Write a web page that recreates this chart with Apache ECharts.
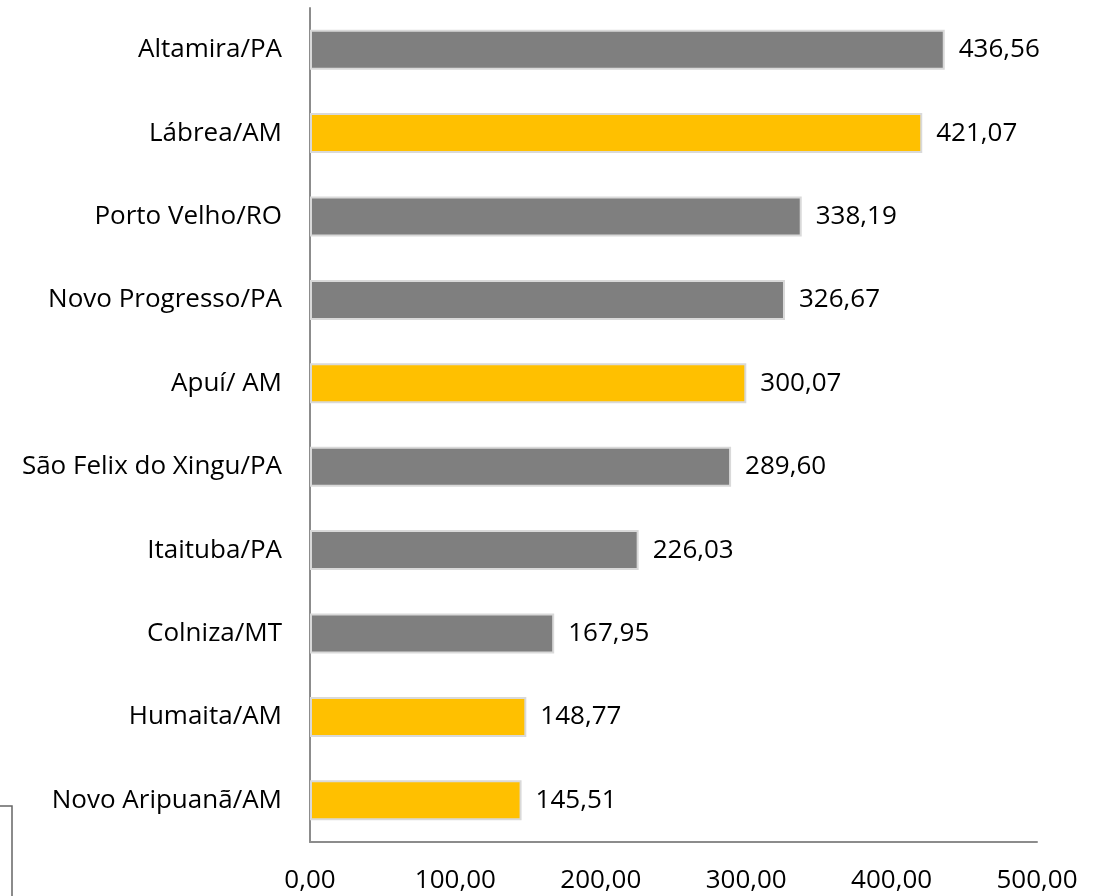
<!DOCTYPE html>
<html>
<head>
<meta charset="utf-8">
<script src="https://cdn.jsdelivr.net/npm/echarts@6/dist/echarts.min.js"></script>
<style>
  html, body { margin: 0; padding: 0; background: #fff; }
  #chart { width: 1096px; height: 896px; }
</style>
</head>
<body>
<div id="chart"></div>
<script>
// municipios (de cima para baixo)
var cities = ['Altamira/PA', 'Lábrea/AM', 'Porto Velho/RO', 'Novo Progresso/PA', 'Apuí/ AM',
	'São Felix do Xingu/PA', 'Itaituba/PA', 'Colniza/MT', 'Humaita/AM', 'Novo Aripuanã/AM'];
var values = [436.56, 421.07, 338.19, 326.67, 300.07, 289.60, 226.03, 167.95, 148.77, 145.51];
// municipios do Amazonas em amarelo
var isAM = [false, true, false, false, true, false, false, false, true, true];
var xTicks = [0, 100, 200, 300, 400, 500];

var GRAY = '#7f7f7f', YELLOW = '#ffc000';
var FONT = '"Open Sans", sans-serif';

function fmt(v) {
	return v.toFixed(2).replace('.', ',');
}

var myChart = echarts.init(document.getElementById('chart'));

var option = {
	animation: false,
	grid: { left: 310, right: 59, top: 8, bottom: 54 },
	xAxis: {
		type: 'value',
		min: xTicks[0],
		max: xTicks[xTicks.length - 1],
		interval: 100,
		splitLine: { show: false },
		axisTick: { show: false },
		axisLine: { show: true, lineStyle: { color: '#8c8c8c', width: 2 } },
		axisLabel: {
			margin: 26, fontSize: 26, color: '#000', fontFamily: FONT,
			formatter: function (v) { return fmt(v); }
		}
	},
	yAxis: {
		type: 'category',
		inverse: true,
		data: cities,
		axisTick: { show: false },
		axisLine: { show: true, lineStyle: { color: '#8c8c8c', width: 2 } },
		axisLabel: { margin: 28, fontSize: 26, color: '#000', fontFamily: FONT }
	},
	series: [{
		type: 'bar',
		barWidth: 40,
		data: values.map(function (v, i) {
			return { value: v, itemStyle: { color: isAM[i] ? YELLOW : GRAY } };
		}),
		itemStyle: { borderColor: '#d9d9d9', borderWidth: 2 },
		label: {
			show: true, position: 'right', distance: 14,
			fontSize: 26, color: '#000', fontFamily: FONT,
			formatter: function (p) { return fmt(p.value); }
		}
	}],
	graphic: [{
		type: 'rect',
		shape: { x: -10, y: 806, width: 22, height: 100 },
		style: { fill: 'none', stroke: '#666', lineWidth: 1.5 }
	}]
};

myChart.setOption(option);
</script>
</body>
</html>
